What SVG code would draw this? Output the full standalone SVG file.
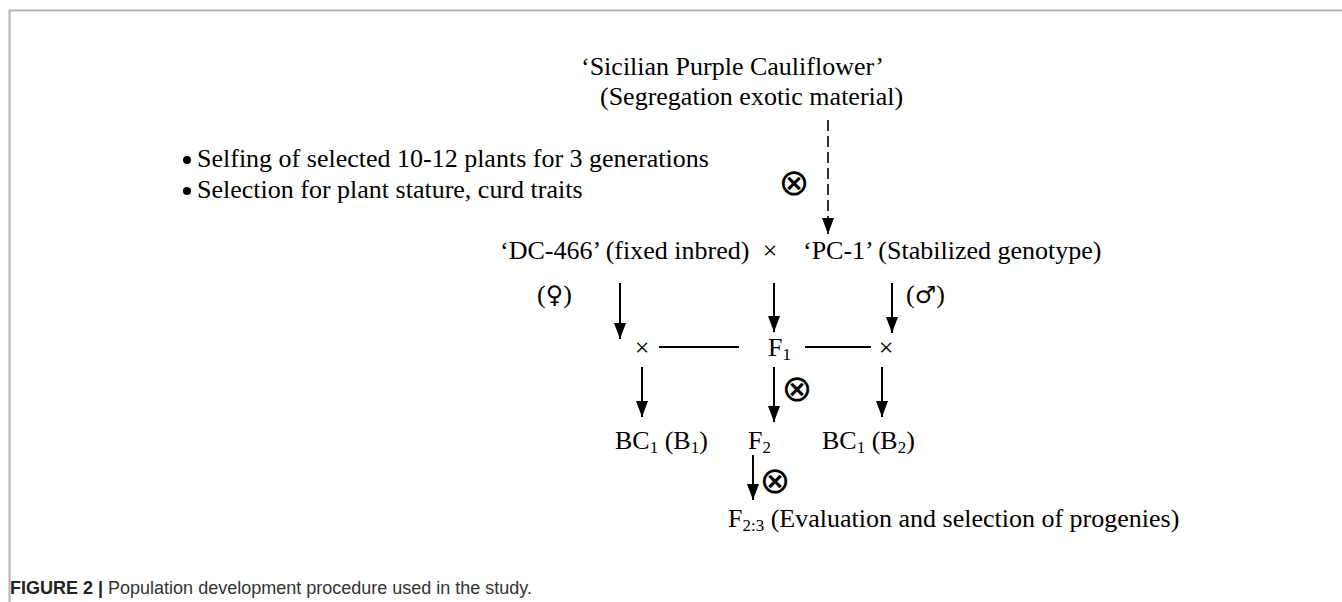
<svg xmlns="http://www.w3.org/2000/svg" width="1342" height="602" viewBox="0 0 1342 602">
<style>
.t{font-family:"Liberation Serif","Times New Roman",serif;font-size:26px;fill:#000}
.sub{font-size:17px}
.sx{font-family:"DejaVu Sans",sans-serif;font-size:24px}
.sym{font-family:"DejaVu Sans",sans-serif;font-size:37px;fill:#000}
.cap{font-family:"Liberation Sans",Arial,sans-serif;font-size:18px;fill:#333}
.ln{stroke:#000;stroke-width:2;fill:none}
.dash{stroke:#000;stroke-width:1.6;fill:none;stroke-dasharray:11 5}
.frame{stroke:#b4b4b4;stroke-width:2;fill:none}
</style>
<defs>
<marker id="ah" viewBox="0 0 16 12" refX="16" refY="6" markerWidth="16" markerHeight="12" markerUnits="userSpaceOnUse" orient="auto">
<path d="M0,0 L16,6 L0,12 Z" fill="#000"/>
</marker>
</defs>
<rect width="1342" height="602" fill="#fff"/>
<path class="frame" d="M9.5,602 V10.5 H1342"/>

<g id="sicilian">
<text class="t" x="581" y="75">‘Sicilian Purple Cauliflower’</text>
<text class="t" x="600" y="105">(Segregation exotic material)</text>
</g>
<g id="notes">
<circle cx="187" cy="160" r="4" fill="#000"/>
<text class="t" x="197" y="167">Selfing of selected 10-12 plants for 3 generations</text>
<circle cx="187" cy="191" r="4" fill="#000"/>
<text class="t" x="197" y="198">Selection for plant stature, curd traits</text>
</g>
<g id="self1"><text class="sym" x="794" y="195" text-anchor="middle">⊗</text></g>
<g id="parents">
<text class="t" x="500" y="259">‘DC-466’ (fixed inbred)</text>
<text class="t" x="770" y="259" text-anchor="middle">×</text>
<text class="t" x="803" y="259">‘PC-1’ (Stabilized genotype)</text>
<text class="t" x="537" y="303">(<tspan class="sx">♀</tspan>)</text>
<text class="t" x="906" y="303">(<tspan class="sx">♂</tspan>)</text>
</g>
<g id="cross-left"><text class="t" x="642" y="356" text-anchor="middle">×</text></g>
<g id="f1"><text class="t" x="768" y="356">F<tspan class="sub" dy="4">1</tspan></text></g>
<g id="cross-right"><text class="t" x="886" y="356" text-anchor="middle">×</text></g>
<g id="self2"><text class="sym" x="797" y="401" text-anchor="middle">⊗</text></g>
<g id="bc1b1"><text class="t" x="615" y="449">BC<tspan class="sub" dy="4">1</tspan><tspan dy="-4"> (B</tspan><tspan class="sub" dy="4">1</tspan><tspan dy="-4">)</tspan></text></g>
<g id="f2"><text class="t" x="748" y="449">F<tspan class="sub" dy="4">2</tspan></text></g>
<g id="bc1b2"><text class="t" x="822" y="449">BC<tspan class="sub" dy="4">1</tspan><tspan dy="-4"> (B</tspan><tspan class="sub" dy="4">2</tspan><tspan dy="-4">)</tspan></text></g>
<g id="self3"><text class="sym" x="775" y="493" text-anchor="middle">⊗</text></g>
<g id="f23"><text class="t" x="728" y="527">F<tspan class="sub" dy="4">2:3</tspan><tspan dy="-4"> (Evaluation and selection of progenies)</tspan></text></g>

<g id="connectors">
<path class="dash" d="M828,120 V234" marker-end="url(#ah)"/>
<path class="ln" d="M620,283 V339" marker-end="url(#ah)"/>
<path class="ln" d="M774,283 V332" marker-end="url(#ah)"/>
<path class="ln" d="M892,283 V333" marker-end="url(#ah)"/>
<path class="ln" d="M659,347 H739"/>
<path class="ln" d="M805,347 H871"/>
<path class="ln" d="M642,367 V417" marker-end="url(#ah)"/>
<path class="ln" d="M774,367 V422" marker-end="url(#ah)"/>
<path class="ln" d="M882,367 V417" marker-end="url(#ah)"/>
<path class="ln" d="M753,455 V500" marker-end="url(#ah)"/>
</g>
<g id="caption">
<text class="cap" x="10" y="594"><tspan font-weight="bold" fill="#222">FIGURE 2 |</tspan> Population development procedure used in the study.</text>
</g>
</svg>
